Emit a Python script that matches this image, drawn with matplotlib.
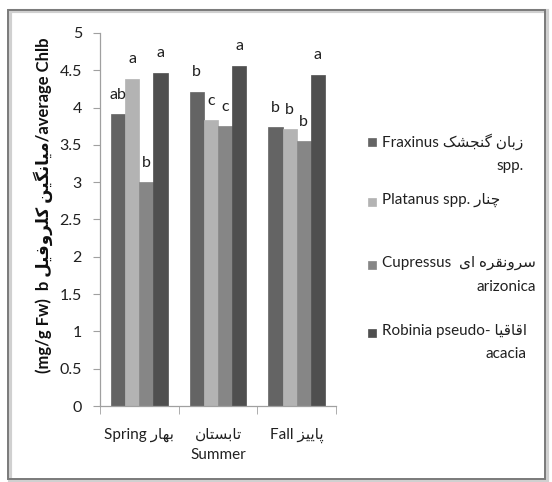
# -*- coding: utf-8 -*-
# Chlorophyll b by season and tree species - grouped bar chart
import matplotlib
matplotlib.use('Agg')
import matplotlib.pyplot as plt
from matplotlib.patches import Rectangle
import numpy as np

plt.rcParams['font.family'] = ['Lato', 'DejaVu Sans']

# Arabic presentation forms: isolated, final, initial, medial
FORMS = {
    '\u0627': ('\uFE8D', '\uFE8E', None, None),
    '\u0628': ('\uFE8F', '\uFE90', '\uFE91', '\uFE92'),
    '\u067E': ('\uFB56', '\uFB57', '\uFB58', '\uFB59'),
    '\u062A': ('\uFE95', '\uFE96', '\uFE97', '\uFE98'),
    '\u062C': ('\uFE9D', '\uFE9E', '\uFE9F', '\uFEA0'),
    '\u0686': ('\uFB7A', '\uFB7B', '\uFB7C', '\uFB7D'),
    '\u0631': ('\uFEAD', '\uFEAE', None, None),
    '\u0632': ('\uFEAF', '\uFEB0', None, None),
    '\u0633': ('\uFEB1', '\uFEB2', '\uFEB3', '\uFEB4'),
    '\u0634': ('\uFEB5', '\uFEB6', '\uFEB7', '\uFEB8'),
    '\u0641': ('\uFED1', '\uFED2', '\uFED3', '\uFED4'),
    '\u0642': ('\uFED5', '\uFED6', '\uFED7', '\uFED8'),
    '\u06A9': ('\uFB8E', '\uFB8F', '\uFB90', '\uFB91'),
    '\u06AF': ('\uFB92', '\uFB93', '\uFB94', '\uFB95'),
    '\u0644': ('\uFEDD', '\uFEDE', '\uFEDF', '\uFEE0'),
    '\u0645': ('\uFEE1', '\uFEE2', '\uFEE3', '\uFEE4'),
    '\u0646': ('\uFEE5', '\uFEE6', '\uFEE7', '\uFEE8'),
    '\u0647': ('\uFEE9', '\uFEEA', '\uFEEB', '\uFEEC'),
    '\u0648': ('\uFEED', '\uFEEE', None, None),
    '\u06CC': ('\uFBFC', '\uFBFD', '\uFBFE', '\uFBFF'),
}


def fa(text):
    """shape persian text and return it in visual (left to right) order"""
    text = text.replace('\u064A', '\u06CC').replace('\u0643', '\u06A9')
    out = []
    for i, ch in enumerate(text):
        f = FORMS.get(ch)
        if f is None:
            out.append(ch)
            continue
        prev = text[i - 1] if i > 0 else ''
        nxt = text[i + 1] if i + 1 < len(text) else ''
        join_prev = prev in FORMS and FORMS[prev][2] is not None
        join_next = f[2] is not None and nxt in FORMS
        if join_prev and join_next:
            out.append(f[3])
        elif join_prev:
            out.append(f[1])
        elif join_next:
            out.append(f[2])
        else:
            out.append(f[0])
    return ''.join(reversed(out))


# data
seasons = ['Spring ' + fa('بهار'), fa('تابستان') + '\nSummer', 'Fall ' + fa('پاییز')]
species = ['Fraxinus ' + fa('زبان گنجشک') + '\nspp.',
           'Platanus spp. ' + fa('چنار'),
           'Cupressus  ' + fa('سرونقره ای') + '\narizonica',
           'Robinia pseudo- ' + fa('اقاقیا') + '\nacacia']
fraxinus = [3.91, 4.21, 3.74]
platanus = [4.39, 3.83, 3.71]
cupressus = [3.00, 3.75, 3.55]
robinia = [4.47, 4.56, 4.44]
letters_fraxinus = ['ab', 'b', 'b']
letters_platanus = ['a', 'c', 'b']
letters_cupressus = ['b', 'c', 'b']
letters_robinia = ['a', 'a', 'a']
ylabel = '(mg/g Fw)  b ' + fa('میانگین کلروفیل') + '/average Chlb'

series = [fraxinus, platanus, cupressus, robinia]
letters = [letters_fraxinus, letters_platanus, letters_cupressus, letters_robinia]
colors = ['#646464', '#b3b3b3', '#868686', '#4f4f4f']

W, H = 552, 482
fig = plt.figure(figsize=(W / 100, H / 100), dpi=100)

# chart area border with a soft shadow
fig.patches.append(Rectangle((10 / W, 1 - 481 / H), 537 / W, 470 / H, transform=fig.transFigure,
                             fill=False, edgecolor='#d0d0d0', linewidth=3, zorder=0))
fig.patches.append(Rectangle((8 / W, 1 - 479 / H), 537 / W, 469 / H, transform=fig.transFigure,
                             fill=False, edgecolor='#7a7a7a', linewidth=1.4, zorder=1))

ax = fig.add_axes([100 / W, 1 - 406 / H, 236 / W, 373 / H])

x = np.arange(len(seasons)) + 0.5
bw = 0.18
for k, (vals, lets) in enumerate(zip(series, letters)):
    pos = x + (k - 1.5) * bw
    ax.bar(pos, vals, width=bw, color=colors[k], edgecolor=colors[k], linewidth=0.5, zorder=2)
    for px, v, t in zip(pos, vals, lets):
        ax.annotate(t, (px, v), xytext=(0, 14), textcoords='offset points',
                    ha='center', va='center', fontsize=11.5, color='#202020')

ax.set_xlim(0, 3)
ax.set_ylim(0, 5)
ax.set_yticks(np.arange(0, 5.01, 0.5))
ax.set_yticklabels(['0', '0.5', '1', '1.5', '2', '2.5', '3', '3.5', '4', '4.5', '5'])
ax.set_xticks(x)
ax.set_xticklabels(seasons, linespacing=1.5)
ax.set_xticks([0, 1, 2, 3], minor=True)
ax.tick_params(axis='x', which='major', length=0, pad=16, labelsize=11, labelcolor='#202020')
ax.tick_params(axis='x', which='minor', length=6, color='#a0a0a0', direction='out')
ax.tick_params(axis='y', length=5, color='#a0a0a0', pad=8, labelsize=11.5, labelcolor='#202020')
for s in ['top', 'right']:
    ax.spines[s].set_visible(False)
for s in ['left', 'bottom']:
    ax.spines[s].set_color('#a0a0a0')
    ax.spines[s].set_linewidth(0.9)

fig.text(43 / W, 1 - 205 / H, ylabel, rotation=90, ha='center', va='center',
         fontsize=12, fontweight='bold', color='#101010')

# legend drawn by hand to match irregular spacing
leg_y = [142, 202, 265, 333]
for k, (lab, yy) in enumerate(zip(species, leg_y)):
    fig.patches.append(Rectangle((368 / W, 1 - (yy + 4) / H), 8 / W, 8 / H,
                                 transform=fig.transFigure, facecolor=colors[k],
                                 edgecolor=colors[k], linewidth=0.5))
    fig.text(382 / W, 1 - (yy - 9) / H, lab, ha='left', va='top', multialignment='right',
             fontsize=11, color='#202020', linespacing=1.85)

fig.savefig('out.png', dpi=100)
